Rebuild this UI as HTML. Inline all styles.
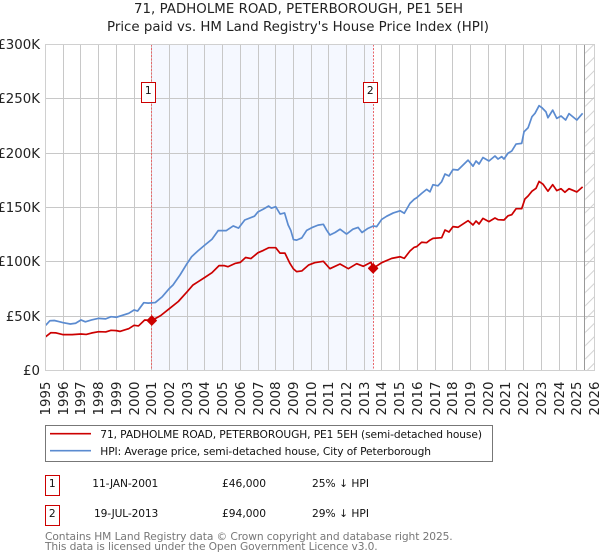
<!DOCTYPE html>
<html lang="en">
<head>
<meta charset="utf-8">
<title>71, PADHOLME ROAD, PETERBOROUGH, PE1 5EH</title>
<style>
html,body{margin:0;padding:0;background:#fff;width:600px;height:560px;overflow:hidden}
svg{display:block;font-family:"DejaVu Sans","Liberation Sans",sans-serif}
</style>
</head>
<body>
<svg id="chart" width="600" height="560" viewBox="0 0 600 560" xmlns="http://www.w3.org/2000/svg">
  <defs>
    <pattern id="hatch" patternUnits="userSpaceOnUse" width="13.3" height="13.3">
      <line x1="0" y1="13.3" x2="13.3" y2="0" stroke="#c9c9c9" stroke-width="0.8"/>
    </pattern>
  </defs>
  <text x="134" y="13" font-size="13.33" textLength="329" fill="#222">71, PADHOLME ROAD, PETERBOROUGH, PE1 5EH</text>
  <text x="107" y="31" font-size="13.33" textLength="382" fill="#222">Price paid vs. HM Land Registry's House Price Index (HPI)</text>
  <g id="plot"></g>

  <g>
    <rect x="45.5" y="425.5" width="447" height="36" fill="#fff" stroke="#777" stroke-width="1"/>
    <line x1="50" y1="433.7" x2="91" y2="433.7" stroke="#cc0000" stroke-width="1.7"/>
    <text x="100.3" y="438" font-size="10.67" textLength="381.7" fill="#111">71, PADHOLME ROAD, PETERBOROUGH, PE1 5EH (semi-detached house)</text>
    <line x1="50" y1="450.7" x2="91" y2="450.7" stroke="#5b8bd0" stroke-width="1.7"/>
    <text x="100.3" y="455" font-size="10.67" textLength="330.7" fill="#111">HPI: Average price, semi-detached house, City of Peterborough</text>
  </g>

  <g font-size="10.67" fill="#111">
    <rect x="45.5" y="475.5" width="14" height="20" fill="#fff" stroke="#cc0000" stroke-width="1"/>
    <text x="52.3" y="487" text-anchor="middle">1</text>
    <text x="92.3" y="487" textLength="66">11-JAN-2001</text>
    <text x="222" y="487">£46,000</text>
    <text x="312" y="487">25% ↓ HPI</text>
    <rect x="45.5" y="505.5" width="14" height="20" fill="#fff" stroke="#cc0000" stroke-width="1"/>
    <text x="52.3" y="517" text-anchor="middle">2</text>
    <text x="94" y="517" textLength="64.3">19-JUL-2013</text>
    <text x="222" y="517">£94,000</text>
    <text x="312" y="517">29% ↓ HPI</text>
  </g>

  <text x="45" y="540" font-size="10.67" textLength="407.7" fill="#777">Contains HM Land Registry data © Crown copyright and database right 2025.</text>
  <text x="45" y="550" font-size="10.67" textLength="332.7" fill="#777">This data is licensed under the Open Government Licence v3.0.</text>
</svg>
<script>
var yearTicks = [1995,1996,1997,1998,1999,2000,2001,2002,2003,2004,2005,2006,2007,2008,2009,2010,2011,2012,2013,2014,2015,2016,2017,2018,2019,2020,2021,2022,2023,2024,2025,2026];
var priceTicks = [0,50,100,150,200,250,300];
var priceTickLabels = ['£0','£50K','£100K','£150K','£200K','£250K','£300K'];

var hpiDates = [1995.0,1995.12,1995.25,1995.5,1995.75,1996.0,1996.4,1996.7,1997.0,1997.25,1997.6,1998.0,1998.4,1998.7,1999.0,1999.3,1999.7,2000.0,2000.2,2000.55,2000.8,2001.2,2001.6,2002.0,2002.2,2002.6,2003.0,2003.25,2003.6,2004.0,2004.4,2004.75,2005.2,2005.6,2005.9,2006.25,2006.8,2007.0,2007.3,2007.6,2007.75,2008.0,2008.25,2008.5,2008.7,2008.85,2009.0,2009.18,2009.47,2009.75,2010.03,2010.39,2010.69,2010.88,2011.06,2011.35,2011.63,2012.0,2012.36,2012.65,2012.87,2013.21,2013.51,2013.7,2013.98,2014.27,2014.64,2015.02,2015.26,2015.58,2015.82,2015.96,2016.24,2016.52,2016.71,2016.88,2017.16,2017.37,2017.56,2017.78,2018.01,2018.29,2018.86,2019.14,2019.31,2019.48,2019.7,2020.04,2020.38,2020.55,2020.76,2020.89,2021.12,2021.33,2021.57,2021.89,2022.02,2022.25,2022.47,2022.64,2022.87,2023.02,2023.26,2023.37,2023.64,2023.87,2024.11,2024.37,2024.56,2025.0,2025.33];
var hpiValues = [41.5,43.5,45.8,46,45,44,42.8,43.5,46.5,44.8,46.5,48,47.5,49.5,49,50.5,52.6,55.7,54.7,62.4,62,62.5,68,75.6,78.7,88,98.6,104.7,110,115.5,120.8,128.7,128.7,133,131,138.5,142,146,148.5,151.4,149.4,150.7,144,145,134,129,120.5,120,122,129,131.4,133.8,134.5,129,124.7,127,130,125.6,130,131.7,127,130.8,133,132.4,139,142,145,147,144.7,153.8,157.6,159,163,166.7,164.4,171,170,173.8,180.8,179,185,184.5,193.6,188,192.8,190,196,192.8,197.4,194.6,196.8,194.6,200,202,208.4,209,219.7,223.4,233.6,236.7,243.7,242,238,232.6,239.6,232,234.2,230.5,236.4,230.5,236.7];

var paidDates = [1995.0,1995.12,1995.3,1995.6,1996.0,1996.5,1997.0,1997.3,1997.6,1998.0,1998.4,1998.7,1999.0,1999.2,1999.7,2000.0,2000.25,2000.6,2001.0,2001.5,2002.0,2002.5,2003.0,2003.33,2003.6,2004.0,2004.4,2004.8,2005.1,2005.3,2005.7,2006.0,2006.3,2006.6,2007.0,2007.3,2007.6,2008.0,2008.24,2008.52,2008.8,2009.0,2009.18,2009.47,2009.85,2010.2,2010.69,2011.06,2011.63,2012.1,2012.57,2012.95,2013.38,2013.5,2013.98,2014.55,2015.02,2015.26,2015.58,2015.82,2015.96,2016.24,2016.52,2016.71,2016.88,2017.37,2017.56,2017.78,2018.01,2018.29,2018.86,2019.14,2019.31,2019.48,2019.7,2020.04,2020.38,2020.55,2020.89,2021.12,2021.33,2021.57,2021.89,2022.07,2022.25,2022.47,2022.7,2022.87,2023.1,2023.37,2023.64,2023.87,2024.11,2024.33,2024.56,2025.0,2025.33];
var paidValues = [31,32.5,34.8,34.6,33,33,33.6,33.2,34.5,35.7,35.5,37,36.7,36,38.5,41.6,41,46.5,46,50.5,57,63.5,72.5,78.7,81.5,85.7,90,96.5,96.5,95.5,98.5,99.5,104,103,108.4,110.5,113,113,108,108,98.6,93.5,91,91.6,97,99.2,100.5,93.7,98,93.7,98.3,95.9,99.6,94,99.2,103.2,104.7,103.2,110,113.4,114,118,117.6,120,121.6,122.2,129.3,127.4,132.4,131.8,137.9,133.9,137.6,134.8,140,137,140.3,138.8,138.5,142.4,143.4,148.9,148.9,157.8,160.6,165,167.7,174,171.3,165,171,165.5,167.3,164,167.3,164.3,169];

var saleDates = [2001.0,2013.5];
var salePrices = [46,94];
var saleLabels = ['1','2'];
var cutoffDate = 2025.45;

var SVGNS = 'http://www.w3.org/2000/svg';
var plot = document.getElementById('plot');
var LEFT = 45.5, RIGHT = 594.5, TOP = 44.5, BOTTOM = 370.5;
function xScale(year){ return LEFT + (year - 1995) * (RIGHT - LEFT) / 31; }
function yScale(k){ return BOTTOM - k * (BOTTOM - TOP) / 300; }
function snap(v){ return Math.round(v - 0.5) + 0.5; }
function make(tag, attrs, parent){
  var el = document.createElementNS(SVGNS, tag);
  for (var k in attrs) el.setAttribute(k, attrs[k]);
  (parent || plot).appendChild(el);
  return el;
}
function linePath(dates, values){
  return dates.map(function(d, i){ return (i ? 'L' : 'M') + xScale(d).toFixed(2) + ' ' + yScale(values[i]).toFixed(2); }).join(' ');
}

var shadeLeft = snap(xScale(saleDates[0]));
var shadeRight = snap(xScale(saleDates[1]));
var shade = make('rect', {x: shadeLeft, y: TOP, width: shadeRight - shadeLeft, height: BOTTOM - TOP, fill: '#f5f8ff'});



var cutX = snap(xScale(cutoffDate));
var hatch = make('rect', {x: cutX, y: TOP, width: RIGHT - cutX, height: BOTTOM - TOP, fill: 'url(#hatch)'});



yearTicks.forEach(function(yr){
  var x = snap(xScale(yr));
  var g = make('line', {x1: x, x2: x, y1: TOP, y2: BOTTOM, stroke: '#c8c8c8', 'stroke-width': 1});
  
  
  var t = make('text', {transform: 'translate(' + (x + 4.5) + ',415.5) rotate(-90)', 'font-size': 13.33, fill: '#222'});
  
  
  t.textContent = String(yr);
});
priceTicks.forEach(function(v, i){
  var y = snap(yScale(v));
  var g = make('line', {x1: LEFT, x2: RIGHT, y1: y, y2: y, stroke: '#c8c8c8', 'stroke-width': 1});
  
  
  var t = make('text', {x: 40, y: y + 4.5, 'text-anchor': 'end', 'font-size': 13.33, fill: '#222'});
  
  
  t.textContent = priceTickLabels[i];
});

var cut = make('line', {x1: cutX, x2: cutX, y1: TOP, y2: BOTTOM, stroke: '#999', 'stroke-width': 1});



saleDates.forEach(function(d){
  var x = snap(xScale(d));
  var v = make('line', {x1: x, x2: x, y1: TOP, y2: BOTTOM, stroke: '#e8676b', 'stroke-width': 1, 'stroke-dasharray': '2 1.5'});
  
  
});

var hpiLine = make('path', {d: linePath(hpiDates, hpiValues), fill: 'none', stroke: '#5b8bd0', 'stroke-width': 1.7, 'stroke-linejoin': 'round'});


var paidLine = make('path', {d: linePath(paidDates, paidValues), fill: 'none', stroke: '#cc0000', 'stroke-width': 1.7, 'stroke-linejoin': 'round'});



saleDates.forEach(function(d, i){
  var x = xScale(d), y = yScale(salePrices[i]), r = 4.6;
  var m = make('polygon', {points: [x, y - r, x + r, y, x, y + r, x - r, y].join(' '), fill: '#cc0000', stroke: '#cc0000', 'stroke-width': 1.2, 'stroke-linejoin': 'round'});
  
  
  var bx = snap(x) - 10;
  var b = make('rect', {x: bx, y: 82.5, width: 14, height: 20, fill: '#fff', stroke: '#cc0000', 'stroke-width': 1});
  
  
  var t = make('text', {x: bx + 6.8, y: 94, 'text-anchor': 'middle', 'font-size': 10.67, fill: '#111'});
  
  
  t.textContent = saleLabels[i];
});

var border = make('rect', {x: LEFT, y: TOP, width: RIGHT - LEFT, height: BOTTOM - TOP, fill: 'none', stroke: '#d0d0d0', 'stroke-width': 1});


</script>
</body>
</html>
